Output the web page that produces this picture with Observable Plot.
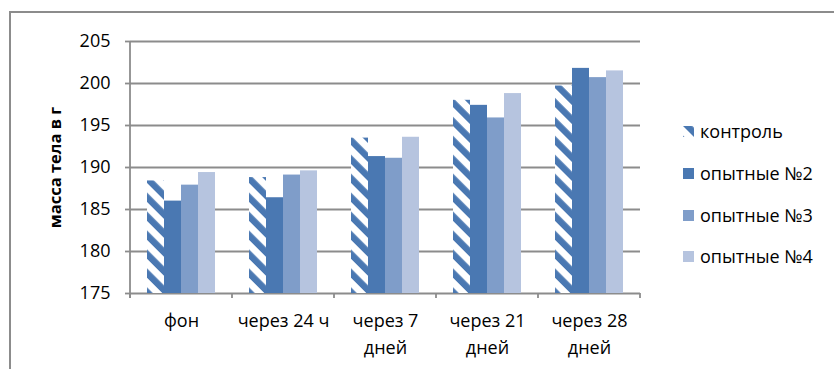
<!DOCTYPE html>
<html><head><meta charset="utf-8">
<script src="https://cdn.jsdelivr.net/npm/d3@7"></script>
<script src="https://cdn.jsdelivr.net/npm/@observablehq/plot@0.6"></script>
<style>
body{margin:0;background:#fff;}
#wrap{position:relative;width:834px;height:369px;overflow:hidden;font-family:"Open Sans",sans-serif;background:#fff;}
#frame{position:absolute;left:9px;top:11px;width:1000px;height:1000px;border-left:2px solid #8c8c8c;border-top:2px solid #8c8c8c;}
#chart{position:absolute;left:0;top:0;}
#legend{position:absolute;left:683px;top:0;}
.item{position:absolute;left:0;height:20px;display:flex;align-items:center;white-space:nowrap;font-size:18px;line-height:20px;color:#000;}
.sw{width:11px;height:11px;margin-right:6px;display:block;}
</style></head><body>
<div id="wrap"><div id="frame"></div><div id="chart"></div><div id="legend"></div></div>
<script>
const categories = ["фон", "через 24 ч", "через 7\nдней", "через 21\nдней", "через 28\nдней"];
const series = ["контроль", "опытные №2", "опытные №3", "опытные №4"];
const control = [188.4, 188.8, 193.5, 198.0, 199.7];
const exp2 = [186.0, 186.4, 191.3, 197.4, 201.8];
const exp3 = [187.9, 189.1, 191.1, 195.9, 200.7];
const exp4 = [189.4, 189.6, 193.6, 198.8, 201.5];
const yTicks = [175, 180, 185, 190, 195, 200, 205];
const yTitle = "масса тела в г";

const values = [control, exp2, exp3, exp4];
const fills = ["url(#hatch)", "#4a78b2", "#7f9dc9", "#b6c4df"];
const stripe = "#4a78b2";
const axisGray = "#8c8c8c";

const data = categories.flatMap((c, i) => series.map((s, j) => ({cat: c, series: s, value: values[j][i]})));
const yMin = yTicks[0], yMax = yTicks[yTicks.length - 1];

const plot = Plot.plot({
  width: 834, height: 369,
  marginLeft: 128, marginRight: 193, marginTop: 41, marginBottom: 76,
  style: {fontFamily: '"Open Sans", sans-serif', fontSize: "18px", color: "#000", background: "transparent", overflow: "visible"},
  fx: {domain: categories, padding: 0},
  x: {domain: series, paddingInner: 0, paddingOuter: 1, axis: null},
  y: {domain: [yMin, yMax], axis: null},
  color: {domain: series, range: fills},
  marks: [
    Plot.gridY(yTicks, {stroke: axisGray, strokeOpacity: 1, strokeWidth: 1.8}),
    Plot.barY(data, {fx: "cat", x: "series", y1: yMin, y2: "value", fill: "series"}),
    Plot.axisY(yTicks, {tickSize: 5, tickPadding: 15, stroke: axisGray, strokeWidth: 1.8, label: yTitle, labelArrow: "none", labelAnchor: "center", labelOffset: 81, fontSize: 18}),
    Plot.axisFx({anchor: "bottom", tickSize: 0, tickPadding: 14, lineHeight: 1.5, label: null, fontSize: 18})
  ]
});

const sel = d3.select(plot);
const defs = sel.insert("defs", ":first-child");
function addPattern(defsSel, id) {
  const p = defsSel.append("pattern").attr("id", id).attr("patternUnits", "userSpaceOnUse")
    .attr("width", 13.4).attr("height", 13.4).attr("patternTransform", "rotate(-45)");
  p.append("rect").attr("width", 13.4).attr("height", 13.4).attr("fill", "#fff");
  p.append("rect").attr("width", 6.5).attr("height", 13.4).attr("fill", stripe);
}
addPattern(defs, "hatch");

const fx = plot.scale("fx"), y = plot.scale("y");
const y0 = y.apply(yMin);
const edges = categories.map(c => fx.apply(c)).concat([fx.apply(categories[categories.length - 1]) + fx.bandwidth]);
const g = sel.append("g").attr("stroke", axisGray).attr("stroke-width", 1.8);
g.selectAll("line.t").data(edges).join("line").attr("class", "t")
  .attr("x1", d => d).attr("x2", d => d).attr("y1", y0).attr("y2", y0 + 5);
g.append("line").attr("x1", edges[0]).attr("x2", edges[0]).attr("y1", y.apply(yMax)).attr("y2", y0 + 5);

sel.selectAll('g[aria-label="y-axis label"]').attr("font-weight", "bold").attr("font-size", 16.5)
  .selectAll("text").attr("font-weight", "bold").attr("font-size", 16.5);

document.getElementById("chart").appendChild(plot);

const legendCenters = [131, 173, 215, 256];
const leg = d3.select("#legend");
series.forEach((s, i) => {
  const it = leg.append("div").attr("class", "item").style("top", (legendCenters[i] - 10) + "px");
  const sw = it.append("svg").attr("class", "sw").attr("width", 11).attr("height", 11);
  if (i === 0) {
    addPattern(sw.append("defs"), "hatchL");
    sw.append("rect").attr("width", 11).attr("height", 11).attr("fill", "url(#hatchL)");
  } else {
    sw.append("rect").attr("width", 11).attr("height", 11).attr("fill", fills[i]);
  }
  it.append("span").text(s);
});
</script>
</body></html>
